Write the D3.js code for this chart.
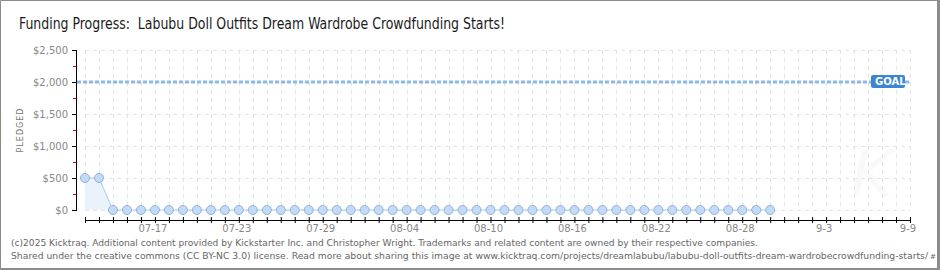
<!DOCTYPE html>
<html>
<head>
<meta charset="utf-8">
<script src="https://cdn.jsdelivr.net/npm/d3@7"></script>
<style>
  html, body { margin: 0; padding: 0; background: #fff; }
  svg { display: block; }
</style>
</head>
<body>
<div id="chart"></div>
<script>
// Daily pledged totals (USD), one per day
const dates = [
  "2025-07-12","2025-07-13","2025-07-14","2025-07-15","2025-07-16","2025-07-17","2025-07-18",
  "2025-07-19","2025-07-20","2025-07-21","2025-07-22","2025-07-23","2025-07-24","2025-07-25",
  "2025-07-26","2025-07-27","2025-07-28","2025-07-29","2025-07-30","2025-07-31","2025-08-01",
  "2025-08-02","2025-08-03","2025-08-04","2025-08-05","2025-08-06","2025-08-07","2025-08-08",
  "2025-08-09","2025-08-10","2025-08-11","2025-08-12","2025-08-13","2025-08-14","2025-08-15",
  "2025-08-16","2025-08-17","2025-08-18","2025-08-19","2025-08-20","2025-08-21","2025-08-22",
  "2025-08-23","2025-08-24","2025-08-25","2025-08-26","2025-08-27","2025-08-28","2025-08-29",
  "2025-08-30"
];
const pledged = [
  500, 500, 0, 0, 0, 0, 0,
  0, 0, 0, 0, 0, 0, 0,
  0, 0, 0, 0, 0, 0, 0,
  0, 0, 0, 0, 0, 0, 0,
  0, 0, 0, 0, 0, 0, 0,
  0, 0, 0, 0, 0, 0, 0,
  0, 0, 0, 0, 0, 0, 0,
  0
];
const goal = 2000;

// x axis range + labelled ticks
const xStart = "2025-07-12";
const xEnd = "2025-09-09";
const xTickDates = ["2025-07-17","2025-07-23","2025-07-29","2025-08-04","2025-08-10",
                    "2025-08-16","2025-08-22","2025-08-28","2025-09-03","2025-09-09"];
const xTickLabels = ["07-17","07-23","07-29","08-04","08-10","08-16","08-22","08-28","9-3","9-9"];
const yTicks = [0, 500, 1000, 1500, 2000, 2500];
const yMinorTicks = [250, 750, 1250, 1750, 2250];

const titleText = "Funding Progress:  Labubu Doll Outfits Dream Wardrobe Crowdfunding Starts!";
const footer1 = "(c)2025 Kicktraq. Additional content provided by Kickstarter Inc. and Christopher Wright. Trademarks and related content are owned by their respective companies.";
const footer2 = "Shared under the creative commons (CC BY-NC 3.0) license. Read more about sharing this image at www.kicktraq.com/projects/dreamlabubu/labubu-doll-outfits-dream-wardrobecrowdfunding-starts/";
const footer2Tail = "#";

const W = 940, H = 270;
const parse = d3.utcParse("%Y-%m-%d");
const data = dates.map((d, i) => ({ date: parse(d), value: pledged[i] }));

const svg = d3.select("#chart").append("svg")
  .attr("width", W)
  .attr("height", H)
  .style("font-family", "'DejaVu Sans', sans-serif");

const x = d3.scaleUtc()
  .domain([parse(xStart), parse(xEnd)])
  .range([85, 910]);

const y = d3.scaleLinear()
  .domain([0, 2500])
  .range([210, 50]);

// title
svg.append("text")
  .attr("x", 19).attr("y", 29)
  .attr("font-family", "'Liberation Sans Narrow', 'DejaVu Sans Condensed', sans-serif")
  .attr("font-size", 16)
  .attr("fill", "#1a1a1a")
  .attr("textLength", 486)
  .attr("lengthAdjust", "spacingAndGlyphs")
  .style("white-space", "pre")
  .text(titleText);

// watermark
svg.append("text")
  .attr("x", 872).attr("y", 196)
  .attr("text-anchor", "middle")
  .attr("font-size", 64)
  .attr("font-style", "italic")
  .attr("fill", "#f9f9f9")
  .text("K");

// grid
const days = d3.utcDay.range(parse(xStart), d3.utcDay.offset(parse(xEnd), 1));
svg.append("g")
  .selectAll("line")
  .data(days)
  .join("line")
  .attr("x1", d => Math.round(x(d)) + 0.5)
  .attr("x2", d => Math.round(x(d)) + 0.5)
  .attr("y1", y(2500))
  .attr("y2", y(0))
  .attr("stroke", "#e4e4e4")
  .attr("stroke-dasharray", "4,4");

svg.append("g")
  .selectAll("line")
  .data(yTicks)
  .join("line")
  .attr("x1", x.range()[0])
  .attr("x2", x.range()[1])
  .attr("y1", d => Math.round(y(d)) + 0.5)
  .attr("y2", d => Math.round(y(d)) + 0.5)
  .attr("stroke", "#e4e4e4")
  .attr("stroke-dasharray", "4,4");

// y axis
const yAxis = svg.append("g")
  .attr("transform", "translate(76,0)")
  .call(d3.axisLeft(y)
    .tickValues(yTicks)
    .tickSize(4)
    .tickPadding(4)
    .tickFormat(d => "$" + d3.format(",")(d)));
yAxis.select(".domain").attr("stroke", "#000").attr("d", `M0.5,${y(2500)}V${y(0) + 1}`);
yAxis.selectAll(".tick line").attr("stroke", "#000").attr("x1", 1);
yAxis.selectAll(".tick text")
  .attr("fill", "#888")
  .attr("font-size", 10)
  .attr("font-family", "'DejaVu Sans', sans-serif");

svg.append("g")
  .selectAll("line")
  .data(yMinorTicks)
  .join("line")
  .attr("x1", 73).attr("x2", 76)
  .attr("y1", d => Math.round(y(d)) + 0.5)
  .attr("y2", d => Math.round(y(d)) + 0.5)
  .attr("stroke", "#e00000");

svg.append("text")
  .attr("transform", `translate(23,${(y(2500) + y(0)) / 2}) rotate(-90)`)
  .attr("text-anchor", "middle")
  .attr("font-size", 8)
  .attr("letter-spacing", 1)
  .attr("fill", "#777")
  .text("PLEDGED");

// x axis
const xAxis = svg.append("g")
  .attr("transform", "translate(0,220)")
  .call(d3.axisBottom(x)
    .tickValues(days)
    .tickSize(3)
    .tickFormat(""));
xAxis.select(".domain").attr("stroke", "#000").attr("d", `M${x.range()[0]},0.5H${x.range()[1] + 1}`);
xAxis.selectAll(".tick line").attr("stroke", "#000").attr("y1", -3).attr("y2", 3);

svg.append("g")
  .selectAll("text")
  .data(xTickDates)
  .join("text")
  .attr("x", d => x(parse(d)) - 2)
  .attr("y", 232)
  .attr("text-anchor", "middle")
  .attr("font-size", 10)
  .attr("fill", "#888")
  .text((d, i) => xTickLabels[i]);

// goal line
svg.append("line")
  .attr("x1", 77)
  .attr("x2", 910)
  .attr("y1", y(goal))
  .attr("y2", y(goal))
  .attr("stroke", "#8fb8e8")
  .attr("stroke-width", 3)
  .attr("stroke-dasharray", "4,2");

const goalG = svg.append("g")
  .attr("transform", `translate(871,${y(goal) - 7})`);
goalG.append("rect")
  .attr("width", 34).attr("height", 13)
  .attr("rx", 2)
  .attr("fill", "#3a86d5");
goalG.append("text")
  .attr("x", 4).attr("y", 10)
  .attr("font-size", 10)
  .attr("font-weight", "bold")
  .attr("fill", "#fff")
  .text("GOAL");

// area + line + points
svg.append("path")
  .datum(data)
  .attr("fill", "#eaf2fc")
  .attr("d", d3.area().x(d => x(d.date)).y0(y(0)).y1(d => y(d.value)));

svg.append("path")
  .datum(data)
  .attr("fill", "none")
  .attr("stroke", "#a9c9ee")
  .attr("stroke-width", 1)
  .attr("d", d3.line().x(d => x(d.date)).y(d => y(d.value)));

svg.append("g")
  .selectAll("circle")
  .data(data)
  .join("circle")
  .attr("cx", d => x(d.date))
  .attr("cy", d => y(d.value))
  .attr("r", 4.5)
  .attr("fill", "#c3dbf7")
  .attr("stroke", "#8fb3dd")
  .attr("stroke-width", 1);

// footer
const foot = svg.append("g")
  .attr("font-family", "'DejaVu Sans', Verdana, sans-serif")
  .attr("font-size", 9)
  .attr("fill", "#666");
foot.append("text")
  .attr("x", 11).attr("y", 246)
  .attr("textLength", 747)
  .attr("lengthAdjust", "spacingAndGlyphs")
  .text(footer1);
foot.append("text")
  .attr("x", 11).attr("y", 259)
  .attr("textLength", 917)
  .attr("lengthAdjust", "spacingAndGlyphs")
  .text(footer2);
foot.append("text")
  .attr("x", 930).attr("y", 259)
  .attr("font-size", 7)
  .text(footer2Tail);

// frame
svg.append("path")
  .attr("fill", "none")
  .attr("stroke", "#8c8c8c")
  .attr("stroke-width", 1)
  .attr("d", `M0.5,${H}V0.5H${W}`);
svg.append("rect")
  .attr("x", 937).attr("y", 0)
  .attr("width", 3).attr("height", H)
  .attr("fill", "#8c8c8c");
svg.append("rect")
  .attr("x", 0).attr("y", 268)
  .attr("width", W).attr("height", 2)
  .attr("fill", "#8c8c8c");
</script>
</body>
</html>
